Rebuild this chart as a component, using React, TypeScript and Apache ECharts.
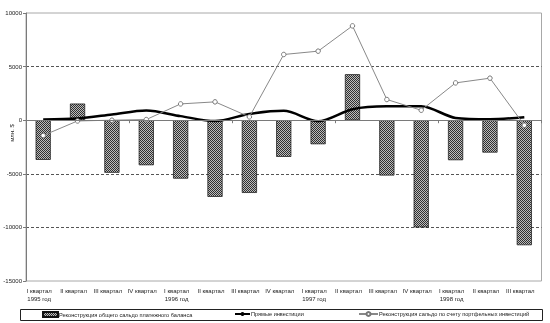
import React, { useEffect, useRef } from 'react';
import * as echarts from 'echarts';

const categories = [
  'I квартал\n1995 год', 'II квартал', 'III квартал', 'IV квартал',
  'I квартал\n1996 год', 'II квартал', 'III квартал', 'IV квартал',
  'I квартал\n1997 год', 'II квартал', 'III квартал', 'IV квартал',
  'I квартал\n1998 год', 'II квартал', 'III квартал',
];

const balance = [-3700, 1550, -4900, -4200, -5450, -7150, -6780, -3420, -2240, 4290, -5160, -10000, -3730, -3020, -11660];
const direct = [70, 160, 530, 900, 380, -80, 580, 870, -90, 1030, 1300, 1300, 215, 90, 280];
const portfolio = [-1430, -70, 0, 60, 1520, 1710, 310, 6130, 6440, 8800, 1930, 930, 3480, 3920, -470];

const yMin = -15000;
const yMax = 10000;
const yStep = 5000;

const seriesNames = [
  'Реконструкция общего сальдо платежного баланса',
  'Прямые инвестиции',
  'Реконструкция сальдо по счету портфельных инвестиций',
];
const yName = 'млн. $';

export default function App() {
  const ref = useRef<HTMLDivElement>(null);
  useEffect(() => {
    const chart = echarts.init(ref.current!, null, { renderer: 'svg' });
    const cv = document.createElement('canvas');
    cv.width = 2;
    cv.height = 2;
    const ctx = cv.getContext('2d')!;
    ctx.fillStyle = '#bcbcbc';
    ctx.fillRect(0, 0, 2, 2);
    ctx.fillStyle = '#303030';
    ctx.fillRect(0, 0, 1, 1);
    ctx.fillRect(1, 1, 1, 1);
    const pattern: any = { image: cv, repeat: 'repeat', imageWidth: 2, imageHeight: 2 };
    const font = 'Liberation Sans';
    const legendCommon: any = {
      padding: 0,
      itemGap: 0,
      itemHeight: 5,
      selectedMode: false,
      textStyle: { fontSize: 5.6, color: '#222', fontFamily: font, padding: [0, 0, 0, -4] },
      top: 311,
    };
    chart.setOption({
      animation: false,
      textStyle: { fontFamily: font },
      grid: { left: 26, right: 8.5, top: 13, bottom: 42, show: true, borderColor: '#a8a8a8', borderWidth: 1 },
      xAxis: [
        {
          type: 'category',
          data: categories,
          axisLine: { onZero: true, lineStyle: { color: '#7a7a7a', width: 1 } },
          axisTick: { show: true, length: 3, lineStyle: { color: '#7a7a7a' } },
          axisLabel: { show: false },
          splitLine: { show: false },
          z: 5,
        },
        {
          type: 'category',
          data: categories,
          position: 'bottom',
          axisLine: { show: false, onZero: false },
          axisTick: { show: false },
          axisLabel: { interval: 0, fontSize: 6, lineHeight: 8, margin: 6, color: '#222', padding: [0, 8, 0, 0] },
          splitLine: { show: false },
        },
      ],
      yAxis: {
        type: 'value',
        min: yMin,
        max: yMax,
        interval: yStep,
        axisLine: { show: true, lineStyle: { color: '#7a7a7a' } },
        axisTick: { show: true, length: 3, lineStyle: { color: '#7a7a7a' } },
        axisLabel: { fontSize: 6, color: '#222', margin: 4, formatter: (v: number) => String(v) },
        splitLine: { show: true, showMinLine: false, showMaxLine: false, lineStyle: { color: '#555', type: [3, 2], width: 1 } },
      },
      legend: [
        { ...legendCommon, data: [seriesNames[0]], left: 42, itemWidth: 15, icon: 'rect' },
        { ...legendCommon, data: [seriesNames[1]], left: 234, itemWidth: 15 },
        { ...legendCommon, data: [seriesNames[2]], left: 358, itemWidth: 19 },
      ],
      graphic: [
        { type: 'rect', shape: { x: 20.5, y: 309.5, width: 522, height: 11 }, style: { fill: 'none', stroke: '#222', lineWidth: 1 }, z: 0 },
        {
          type: 'text', x: 12, y: 133, rotation: Math.PI / 2,
          style: { text: yName, fontSize: 6, fill: '#222', fontFamily: font, align: 'center', verticalAlign: 'middle' },
        },
      ],
      series: [
        {
          name: seriesNames[0],
          type: 'bar',
          data: balance,
          barWidth: '44%',
          itemStyle: { color: pattern, borderColor: '#111', borderWidth: 0.7 },
          z: 2,
        },
        {
          name: seriesNames[1],
          type: 'line',
          data: direct,
          smooth: 0.3,
          symbol: 'none',
          lineStyle: { color: '#000', width: 2.5 },
          itemStyle: { color: '#000' },
          z: 3,
        },
        {
          name: seriesNames[2],
          type: 'line',
          data: portfolio,
          symbol: 'circle',
          symbolSize: 4.5,
          lineStyle: { color: '#888', width: 1 },
          itemStyle: { color: '#fff', borderColor: '#777', borderWidth: 1 },
          z: 4,
        },
      ],
    });
    return () => chart.dispose();
  }, []);
  return <div ref={ref} style={{ position: 'fixed', left: 0, top: 0, width: 550, height: 323 }} />;
}
